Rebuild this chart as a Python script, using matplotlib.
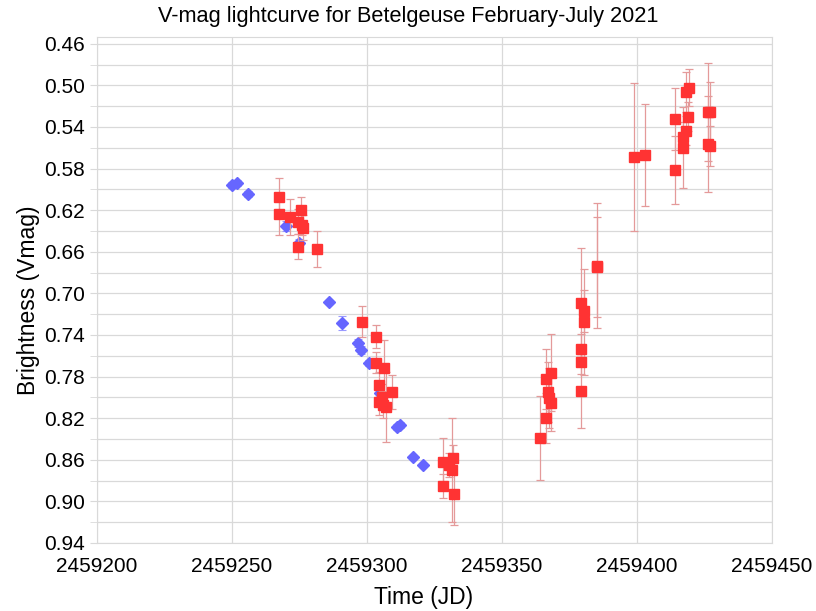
import matplotlib.pyplot as plt
import numpy as np
from matplotlib.ticker import MultipleLocator, FixedLocator, FormatStrFormatter

plt.rcParams['font.family'] = ['Liberation Sans', 'DejaVu Sans']

# blue diamonds
blue_jd = [2459250.0, 2459251.9, 2459255.9, 2459270.0, 2459274.8, 2459285.9, 2459290.7,
           2459296.7, 2459297.8, 2459300.7, 2459304.8, 2459311.1, 2459312.2, 2459317.0,
           2459320.7]
blue_mag = [0.5956, 0.5937, 0.6043, 0.6351, 0.6514, 0.7082, 0.7284,
            0.7476, 0.7543, 0.7668, 0.7957, 0.8284, 0.8265, 0.8573,
            0.8650]
blue_err = [0.003, 0.003, 0.003, 0.005, 0.004, 0.002, 0.007,
            0.004, 0.004, 0.003, 0.006, 0.003, 0.003, 0.002,
            0.002]

# red squares
red_jd = [2459267.4, 2459267.4, 2459271.5, 2459275.6, 2459274.4, 2459276.3, 2459275.9,
          2459274.4, 2459281.5,
          2459298.1, 2459303.3, 2459303.3, 2459306.3, 2459304.4, 2459309.3, 2459305.6,
          2459304.4, 2459307.0, 2459305.9,
          2459328.1, 2459328.1, 2459331.9, 2459331.5, 2459330.4, 2459332.2,
          2459364.1, 2459366.3, 2459366.3, 2459368.1, 2459367.0, 2459368.1, 2459367.4,
          2459379.3, 2459380.4, 2459380.4, 2459379.3, 2459379.3, 2459379.3, 2459385.2,
          2459385.2,
          2459398.9, 2459403.0, 2459414.1, 2459414.1, 2459417.0, 2459417.0, 2459418.1,
          2459418.9, 2459418.1, 2459419.3, 2459426.3, 2459427.0, 2459426.3, 2459427.0]
red_mag = [0.6072, 0.6235, 0.6264, 0.6197, 0.6312, 0.6370, 0.6340,
           0.6553, 0.6572,
           0.7274, 0.7418, 0.7668, 0.7717, 0.7880, 0.7947, 0.7996,
           0.8044, 0.8092, 0.8072,
           0.8621, 0.8852, 0.8582, 0.8698, 0.8650, 0.8929,
           0.8390, 0.8198, 0.7822, 0.7765, 0.7947, 0.8053, 0.8005,
           0.7091, 0.7168, 0.7274, 0.7534, 0.7659, 0.7938, 0.6735,
           0.6745,
           0.5687, 0.5668, 0.5321, 0.5812, 0.5600, 0.5495, 0.5437,
           0.5302, 0.5062, 0.5023, 0.5254, 0.5254, 0.5562, 0.5581]
red_err = [0.018, 0.020, 0.017, 0.012, 0.012, 0.012, 0.010,
           0.012, 0.017,
           0.015, 0.011, 0.010, 0.027, 0.012, 0.016, 0.012,
           0.013, 0.034, 0.013,
           0.023, 0.012, 0.012, 0.050, 0.012, 0.030,
           0.040, 0.024, 0.029, 0.037, 0.029, 0.027, 0.029,
           0.053, 0.020, 0.051, 0.014, 0.012, 0.036, 0.060,
           0.048,
           0.071, 0.049, 0.030, 0.033, 0.039, 0.014, 0.014,
           0.014, 0.019, 0.018, 0.047, 0.029, 0.046, 0.019]

y_major = [0.46, 0.50, 0.54, 0.58, 0.62, 0.66, 0.70, 0.74, 0.78, 0.82, 0.86, 0.90, 0.94]
y_minor = [0.48, 0.52, 0.56, 0.60, 0.64, 0.68, 0.72, 0.76, 0.80, 0.84, 0.88, 0.92]

fig = plt.figure(figsize=(8.16, 6.11), dpi=100)
ax = fig.add_axes([0.1189, 0.1113, 0.8272, 0.8281])

ax.errorbar(blue_jd, blue_mag, yerr=blue_err, fmt='D', color='#6666ff', ms=6,
            mec='#6666ff', ecolor='#9999ff', elinewidth=0.8, capsize=3, capthick=0.8,
            zorder=3)
ax.errorbar(red_jd, red_mag, yerr=red_err, fmt='s', color='#ff3333', ms=7,
            mec='#ff3333', ecolor='#e49a9a', elinewidth=0.9, capsize=3, capthick=0.9,
            zorder=4)

ax.set_xlim(2459200, 2459450)
ax.set_ylim(0.94, 0.4535)
ax.xaxis.set_major_locator(MultipleLocator(50))
ax.xaxis.set_major_formatter(FormatStrFormatter('%d'))
ax.yaxis.set_major_locator(FixedLocator(y_major))
ax.yaxis.set_minor_locator(FixedLocator(y_minor))
ax.yaxis.set_major_formatter(FormatStrFormatter('%.2f'))

ax.grid(True, which='both', color='#d9d9d9', linewidth=0.9)
ax.set_axisbelow(True)
for s in ax.spines.values():
    s.set_color('#d9d9d9')
ax.tick_params(which='both', length=5, color='#d9d9d9', labelsize=15)
ax.tick_params(axis='x', length=0, pad=10)

fig.suptitle('V-mag lightcurve for Betelgeuse February-July 2021', fontsize=15.7,
             x=0.5, y=0.99)
ax.set_xlabel('Time (JD)', fontsize=16.5)
ax.xaxis.set_label_coords(0.484, -0.085)
ax.set_ylabel('Brightness (Vmag)', fontsize=16.5)
ax.yaxis.set_label_coords(-0.084, 0.48)

fig.savefig('out.png', dpi=100)
